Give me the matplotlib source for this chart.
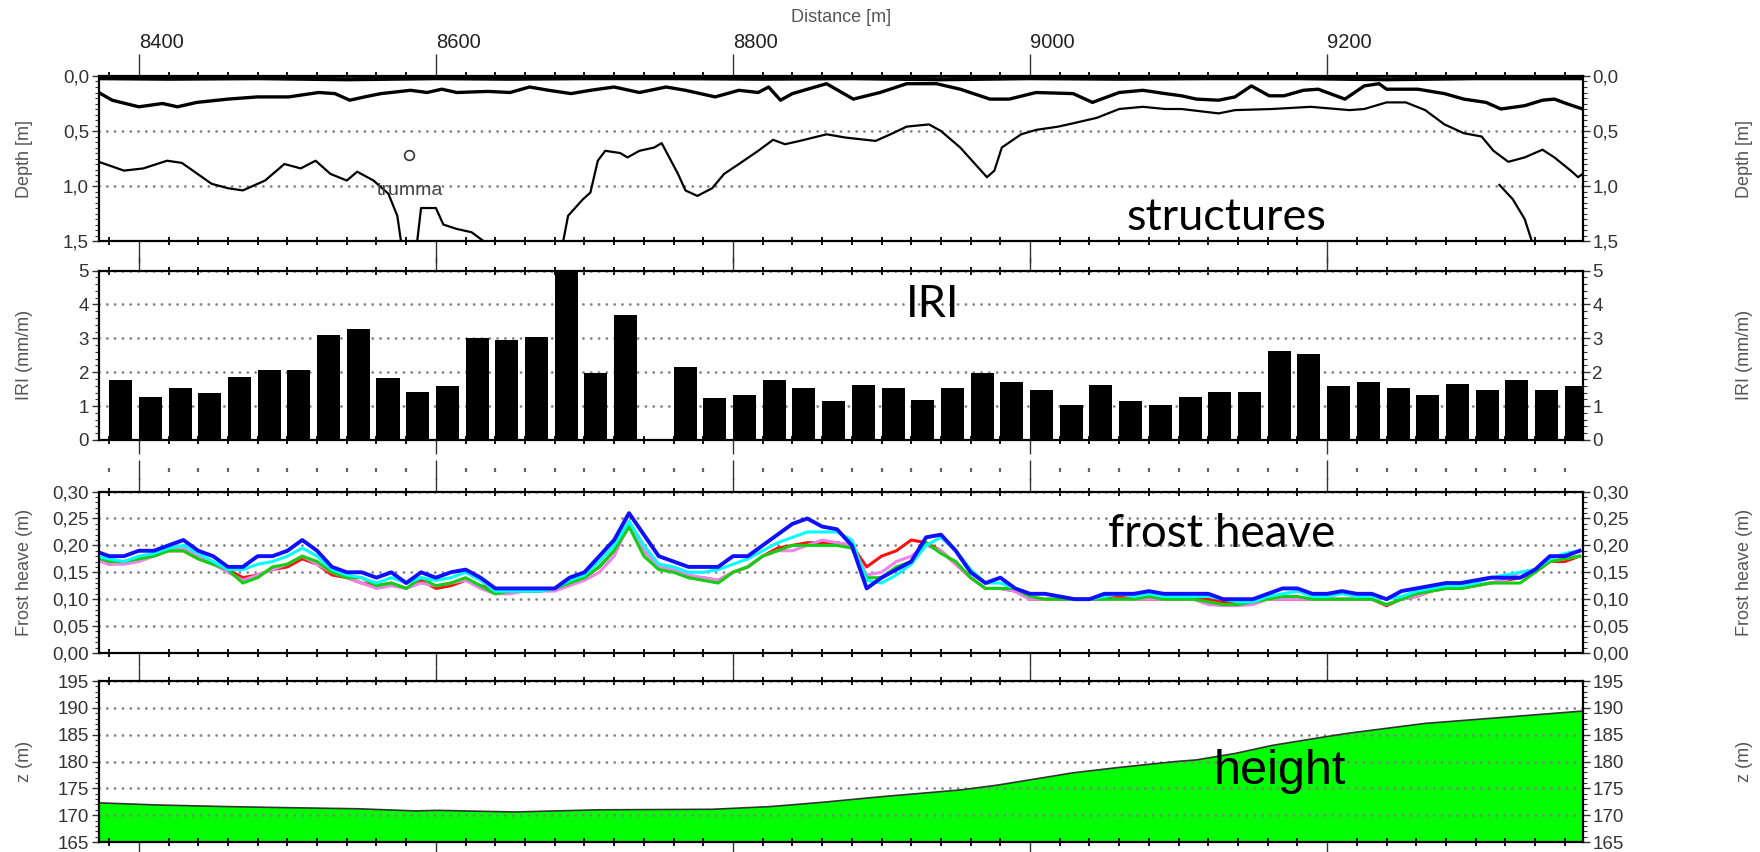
import numpy as np
import matplotlib.pyplot as plt
from matplotlib.ticker import MultipleLocator

plt.rcParams['font.family'] = ['Liberation Sans', 'DejaVu Sans']

x_min, x_max = 8373, 9372
major_x = [8400, 8600, 8800, 9000, 9200]
minor_x = np.arange(8380, 9371, 20)

# --- structures (depth, m) ---
surf_x = [8373, 8420, 8480, 8540, 8600, 8650, 8700, 8760, 8820, 8880, 8940, 9000,
          9060, 9120, 9180, 9240, 9300, 9372]
surf_d = [0.02, 0.025, 0.02, 0.03, 0.02, 0.025, 0.02, 0.02, 0.025, 0.02, 0.03, 0.02,
          0.025, 0.02, 0.02, 0.03, 0.02, 0.02]

lay1_x = [8373, 8382, 8400, 8416, 8426, 8439, 8460, 8480, 8501, 8521, 8532, 8542, 8552,
          8563, 8583, 8594, 8604, 8614, 8635, 8650, 8663, 8676, 8691, 8704, 8720, 8737,
          8755, 8768, 8788, 8804, 8817, 8824, 8832, 8840, 8863, 8881, 8899, 8917, 8937,
          8953, 8973, 8986, 9004, 9029, 9042, 9060, 9076, 9091, 9102, 9112, 9127, 9138,
          9149, 9161, 9171, 9184, 9194, 9212, 9225, 9235, 9240, 9261, 9279, 9292, 9307,
          9317, 9333, 9345, 9353, 9361, 9372]
lay1_d = [0.15, 0.22, 0.28, 0.25, 0.28, 0.24, 0.21, 0.19, 0.19, 0.15, 0.16, 0.22, 0.19,
          0.16, 0.13, 0.15, 0.12, 0.15, 0.14, 0.15, 0.10, 0.13, 0.16, 0.13, 0.10, 0.15,
          0.10, 0.13, 0.19, 0.13, 0.15, 0.10, 0.22, 0.16, 0.07, 0.21, 0.15, 0.07, 0.07,
          0.12, 0.21, 0.21, 0.15, 0.16, 0.24, 0.15, 0.13, 0.16, 0.18, 0.21, 0.22, 0.19,
          0.09, 0.18, 0.18, 0.13, 0.12, 0.21, 0.09, 0.07, 0.12, 0.12, 0.16, 0.21, 0.24,
          0.30, 0.27, 0.22, 0.21, 0.25, 0.30]

lay2a_x = [8373, 8390, 8403, 8419, 8429, 8449, 8460, 8470, 8485, 8498, 8509, 8519, 8529,
           8540, 8547, 8558, 8568, 8574, 8577]
lay2a_d = [0.78, 0.86, 0.84, 0.77, 0.79, 0.98, 1.02, 1.04, 0.95, 0.80, 0.84, 0.77, 0.89,
           0.95, 0.87, 0.95, 1.07, 1.27, 1.55]
lay2b_x = [8587, 8590, 8600, 8605, 8614, 8624, 8630, 8637]
lay2b_d = [1.55, 1.20, 1.20, 1.35, 1.39, 1.42, 1.48, 1.55]
lay2c_x = [8685, 8689, 8699, 8704, 8709, 8714, 8724, 8729, 8737, 8747, 8752, 8763, 8768,
           8776, 8786, 8794, 8804, 8817, 8827, 8835, 8845, 8863, 8876, 8896, 8906, 8917,
           8932, 8940, 8953, 8963, 8971, 8976, 8981, 8994, 9004, 9019, 9029, 9045, 9060,
           9076, 9091, 9102, 9127, 9138, 9163, 9189, 9215, 9225, 9240, 9253, 9266, 9279,
           9292, 9304, 9312, 9322, 9333, 9345, 9353, 9364, 9369, 9372]
lay2c_d = [1.55, 1.27, 1.12, 1.06, 0.77, 0.68, 0.70, 0.74, 0.68, 0.65, 0.61, 0.89, 1.04,
           1.09, 1.02, 0.89, 0.80, 0.68, 0.58, 0.62, 0.59, 0.53, 0.56, 0.59, 0.53, 0.46,
           0.44, 0.50, 0.65, 0.80, 0.92, 0.86, 0.65, 0.53, 0.49, 0.46, 0.43, 0.38, 0.30,
           0.28, 0.30, 0.30, 0.34, 0.31, 0.30, 0.28, 0.31, 0.30, 0.24, 0.24, 0.31, 0.44,
           0.52, 0.55, 0.68, 0.78, 0.74, 0.67, 0.74, 0.86, 0.92, 0.89]
lay3_x = [9316, 9325, 9333, 9339]
lay3_d = [0.99, 1.12, 1.30, 1.55]

trumma_x, trumma_d = 8582, 0.72

# --- IRI (mm/m), 20 m sections, nan = missing ---
iri_start = np.arange(8380, 9361, 20)
iri = [1.77, 1.28, 1.53, 1.38, 1.87, 2.06, 2.06, 3.11, 3.26, 1.82,
       1.43, 1.58, 3.02, 2.94, 3.05, 5.3, 1.98, 3.69, np.nan, 2.16,
       1.24, 1.33, 1.77, 1.53, 1.14, 1.62, 1.53, 1.19, 1.53, 1.98,
       1.70, 1.48, 1.02, 1.62, 1.14, 1.04, 1.28, 1.43, 1.43, 2.63,
       2.53, 1.58, 1.70, 1.53, 1.33, 1.65, 1.48, 1.77, 1.48, 1.58]

# --- frost heave (m), 10 m grid ---
fh_x = np.arange(8370, 9371, 10)
fh_blue = [0.19, 0.18, 0.18, 0.19, 0.19, 0.20, 0.21, 0.19, 0.18, 0.16,
           0.16, 0.18, 0.18, 0.19, 0.21, 0.19, 0.16, 0.15, 0.15, 0.14,
           0.15, 0.13, 0.15, 0.14, 0.15, 0.155, 0.14, 0.12, 0.12, 0.12,
           0.12, 0.12, 0.14, 0.15, 0.18, 0.21, 0.26, 0.22, 0.18, 0.17,
           0.16, 0.16, 0.16, 0.18, 0.18, 0.20, 0.22, 0.24, 0.25, 0.235,
           0.23, 0.20, 0.12, 0.14, 0.155, 0.17, 0.215, 0.22, 0.19, 0.15,
           0.13, 0.14, 0.12, 0.11, 0.11, 0.105, 0.10, 0.10, 0.11, 0.11,
           0.11, 0.115, 0.11, 0.11, 0.11, 0.11, 0.10, 0.10, 0.10, 0.11,
           0.12, 0.12, 0.11, 0.11, 0.115, 0.11, 0.11, 0.10, 0.115, 0.12,
           0.125, 0.13, 0.13, 0.135, 0.14, 0.14, 0.14, 0.155, 0.18, 0.18,
           0.19]
fh_cyan = [0.18, 0.175, 0.17, 0.18, 0.185, 0.195, 0.20, 0.185, 0.17, 0.155,
           0.155, 0.165, 0.17, 0.18, 0.195, 0.18, 0.155, 0.145, 0.14, 0.13,
           0.14, 0.13, 0.14, 0.135, 0.14, 0.15, 0.135, 0.115, 0.115, 0.115,
           0.115, 0.12, 0.135, 0.145, 0.17, 0.20, 0.245, 0.20, 0.165, 0.16,
           0.15, 0.15, 0.155, 0.165, 0.175, 0.19, 0.205, 0.215, 0.225, 0.225,
           0.225, 0.21, 0.135, 0.13, 0.145, 0.165, 0.20, 0.215, 0.19, 0.155,
           0.13, 0.13, 0.12, 0.11, 0.11, 0.105, 0.10, 0.10, 0.105, 0.11,
           0.105, 0.11, 0.105, 0.105, 0.105, 0.105, 0.10, 0.095, 0.095, 0.105,
           0.11, 0.115, 0.105, 0.105, 0.11, 0.105, 0.105, 0.10, 0.105, 0.115,
           0.12, 0.125, 0.125, 0.13, 0.14, 0.145, 0.15, 0.155, 0.175, 0.185,
           0.19]
fh_green = [0.18, 0.17, 0.17, 0.175, 0.18, 0.19, 0.19, 0.175, 0.165, 0.155,
            0.13, 0.14, 0.16, 0.165, 0.18, 0.17, 0.15, 0.14, 0.14, 0.125,
            0.13, 0.12, 0.14, 0.125, 0.13, 0.14, 0.125, 0.11, 0.115, 0.115,
            0.115, 0.12, 0.13, 0.14, 0.16, 0.19, 0.235, 0.18, 0.155, 0.15,
            0.14, 0.135, 0.13, 0.15, 0.16, 0.18, 0.19, 0.20, 0.20, 0.20,
            0.20, 0.195, 0.14, 0.14, 0.16, 0.17, 0.205, 0.185, 0.17, 0.14,
            0.12, 0.12, 0.12, 0.105, 0.10, 0.10, 0.10, 0.10, 0.10, 0.10,
            0.10, 0.105, 0.10, 0.10, 0.10, 0.095, 0.09, 0.09, 0.095, 0.10,
            0.105, 0.105, 0.10, 0.10, 0.10, 0.10, 0.10, 0.09, 0.10, 0.11,
            0.115, 0.12, 0.12, 0.125, 0.13, 0.13, 0.13, 0.15, 0.17, 0.175,
            0.18]
fh_red = [0.175, 0.165, 0.17, 0.175, 0.18, 0.19, 0.19, 0.175, 0.165, 0.155,
          0.14, 0.145, 0.155, 0.16, 0.175, 0.165, 0.145, 0.14, 0.13, 0.125,
          0.13, 0.12, 0.135, 0.12, 0.125, 0.135, 0.125, 0.12, 0.115, 0.115,
          0.115, 0.12, 0.13, 0.14, 0.16, 0.19, 0.235, 0.19, 0.16, 0.155,
          0.14, 0.14, 0.135, 0.15, 0.16, 0.18, 0.195, 0.20, 0.205, 0.205,
          0.205, 0.20, 0.16, 0.18, 0.19, 0.21, 0.205, 0.19, 0.165, 0.14,
          0.12, 0.12, 0.115, 0.10, 0.10, 0.10, 0.10, 0.10, 0.10, 0.105,
          0.10, 0.10, 0.10, 0.10, 0.10, 0.10, 0.095, 0.095, 0.10, 0.10,
          0.10, 0.10, 0.10, 0.10, 0.10, 0.10, 0.10, 0.088, 0.10, 0.105,
          0.115, 0.12, 0.12, 0.125, 0.13, 0.135, 0.14, 0.15, 0.17, 0.17,
          0.18]
fh_violet = [0.175, 0.165, 0.165, 0.17, 0.18, 0.19, 0.195, 0.18, 0.165, 0.15,
             0.135, 0.145, 0.155, 0.165, 0.18, 0.165, 0.15, 0.14, 0.13, 0.12,
             0.125, 0.12, 0.13, 0.125, 0.13, 0.135, 0.12, 0.11, 0.11, 0.115,
             0.115, 0.115, 0.125, 0.135, 0.15, 0.18, 0.24, 0.19, 0.16, 0.155,
             0.145, 0.14, 0.135, 0.15, 0.16, 0.18, 0.19, 0.19, 0.20, 0.21,
             0.205, 0.20, 0.145, 0.15, 0.17, 0.18, 0.20, 0.19, 0.165, 0.14,
             0.12, 0.12, 0.115, 0.10, 0.10, 0.10, 0.10, 0.10, 0.10, 0.10,
             0.10, 0.10, 0.10, 0.10, 0.10, 0.09, 0.088, 0.088, 0.09, 0.10,
             0.10, 0.10, 0.10, 0.10, 0.10, 0.10, 0.10, 0.09, 0.10, 0.105,
             0.115, 0.12, 0.12, 0.125, 0.13, 0.135, 0.15, 0.155, 0.17, 0.175,
             0.18]

# --- road height z (m) ---
z_x = [8373, 8413, 8460, 8500, 8547, 8586, 8601, 8653, 8709, 8786, 8825, 8860, 8902,
       8953, 8978, 9029, 9060, 9098, 9112, 9138, 9163, 9194, 9215, 9266, 9317, 9372]
z = [172.3, 171.9, 171.6, 171.4, 171.2, 170.8, 170.9, 170.6, 171.0, 171.1, 171.6, 172.4,
     173.5, 174.7, 175.6, 177.9, 178.9, 180.0, 180.3, 181.5, 183.0, 184.4, 185.3, 187.1,
     188.2, 189.4]

grey = '#555555'
tick_col = '#333333'


def style(ax, ylim, yticks, yminor, labels, ylabel):
    ax.set_xlim(x_min, x_max)
    ax.set_ylim(*ylim)
    ax.set_yticks(yticks)
    ax.set_yticklabels(labels)
    ax.yaxis.set_minor_locator(MultipleLocator(yminor))
    ax.set_xticks(major_x)
    ax.set_xticks(minor_x, minor=True)
    ax.tick_params(axis='x', which='major', direction='out', length=10, width=1,
                   top=True, bottom=True, labelbottom=False, labeltop=False, color=tick_col)
    ax.tick_params(axis='x', which='minor', direction='inout', length=6, width=1.3,
                   top=True, bottom=True)
    ax.tick_params(axis='y', which='both', left=True, right=True, labelleft=True,
                   labelright=True, labelsize=13.5, labelcolor=tick_col, color=tick_col,
                   pad=2)
    ax.tick_params(axis='y', which='major', length=5, width=1)
    ax.tick_params(axis='y', which='minor', length=3, width=0.8)
    ax.grid(axis='y', which='major', color='#808080', linestyle=(0, (0.01, 2.8)),
            linewidth=2, dash_capstyle='round')
    for s in ax.spines.values():
        s.set_linewidth(1.6)
    ax.set_ylabel(ylabel, color=grey, fontsize=13)
    ax.yaxis.set_label_coords(-0.0445, 0.5)
    ax.text(1.109, 0.5, ylabel, transform=ax.transAxes, rotation=90, ha='center',
            va='center', color=grey, fontsize=13)


fig = plt.figure(figsize=(17.6, 8.52), dpi=100)
L, W = 0.0561, 0.8431
ax1 = fig.add_axes([L, 0.7171, W, 0.1937])
ax2 = fig.add_axes([L, 0.4836, W, 0.1989])
ax3 = fig.add_axes([L, 0.2336, W, 0.1894])
ax4 = fig.add_axes([L, 0.0117, W, 0.1890])

# structures
style(ax1, (1.5, 0.0), [0.0, 0.5, 1.0, 1.5], 0.05, ['0,0', '0,5', '1,0', '1,5'], 'Depth [m]')
ax1.plot(surf_x, surf_d, color='black', lw=3)
ax1.plot(lay1_x, lay1_d, color='black', lw=2.4)
ax1.plot(lay2a_x, lay2a_d, color='black', lw=1.6)
ax1.plot(lay2b_x, lay2b_d, color='black', lw=1.6)
ax1.plot(lay2c_x, lay2c_d, color='black', lw=1.6)
ax1.plot(lay3_x, lay3_d, color='black', lw=1.6)
ax1.plot([trumma_x], [trumma_d], 'o', mfc='white', mec='#333333', ms=7, mew=1.2)
ax1.text(8560, 1.04, 'trumma', color='#444444', fontsize=14, va='center', ha='left')
ax1.tick_params(axis='x', which='major', top=True, labeltop=True, length=16,
                labelsize=14.5, labelcolor='#222222', pad=1)
for lbl in ax1.get_xticklabels():
    lbl.set_ha('left')
ax1.xaxis.set_label_position('top')
ax1.set_xlabel('Distance [m]', color=grey, fontsize=13, labelpad=8)
ax1.text(0.76, 0.145, 'structures', transform=ax1.transAxes, fontsize=32.5,
         family='Lato', ha='center', va='center')

# IRI
style(ax2, (0, 5), [0, 1, 2, 3, 4, 5], 0.2, ['0', '1', '2', '3', '4', '5'], 'IRI (mm/m)')
ax2.bar(iri_start, iri, width=15.5, align='edge', color='black', zorder=3)
ax2.text(0.562, 0.80, 'IRI', transform=ax2.transAxes, fontsize=32.5, family='Lato',
         ha='center', va='center')
sec = ax2.secondary_xaxis(-0.18)
sec.spines['bottom'].set_visible(False)
sec.set_xticks(major_x)
sec.set_xticks(minor_x, minor=True)
sec.tick_params(which='major', direction='inout', length=14, width=1, labelbottom=False,
                color=tick_col)
sec.tick_params(which='minor', direction='inout', length=2.5, width=1.6, color='#666666')

# frost heave
fh_vals = [0.00, 0.05, 0.10, 0.15, 0.20, 0.25, 0.30]
style(ax3, (0, 0.30), fh_vals, 0.01, [('%.2f' % v).replace('.', ',') for v in fh_vals],
      'Frost heave (m)')
ax3.plot(fh_x, fh_red, color='#ff1010', lw=2.2)
ax3.plot(fh_x, fh_violet, color='#ee82ee', lw=2.2)
ax3.plot(fh_x, fh_green, color='#10d010', lw=2.2)
ax3.plot(fh_x, fh_cyan, color='#00ffff', lw=2.2)
ax3.plot(fh_x, fh_blue, color='#1010ff', lw=2.8)
ax3.text(0.757, 0.74, 'frost heave', transform=ax3.transAxes, fontsize=33, family='Lato',
         ha='center', va='center')

# height
z_vals = [165, 170, 175, 180, 185, 190, 195]
style(ax4, (165, 195), z_vals, 1, [str(v) for v in z_vals], 'z (m)')
ax4.fill_between(z_x, 165, z, color='#00ff00', zorder=1.5)
ax4.plot(z_x, z, color='#333333', lw=1.2)
ax4.text(0.796, 0.435, 'height', transform=ax4.transAxes, fontsize=35, ha='center',
         va='center')

fig.savefig('out.png', dpi=100)
